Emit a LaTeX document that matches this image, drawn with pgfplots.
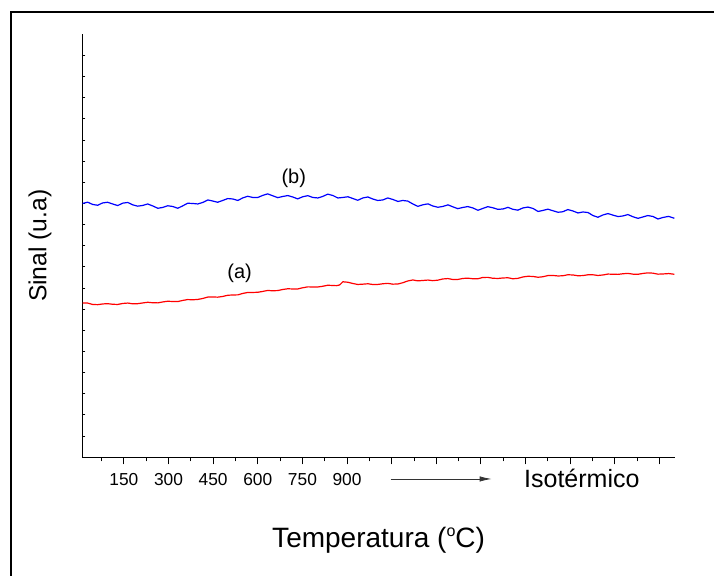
\documentclass[border=0pt]{standalone}
\usepackage{pgfplots}
\pgfplotsset{compat=1.18}
\usepackage{fontspec}
\setmainfont{Liberation Sans}
\usetikzlibrary{arrows.meta}
\pgfplotstableread{
x y
11 154.3
28 154.2
45 152.8
62 152.6
78 153.3
95 153.6
112 153.0
129 152.8
146 153.8
163 154.2
179 153.5
196 153.6
213 154.3
230 155.0
247 154.5
264 154.4
280 155.3
297 156.0
314 155.8
331 155.7
347 156.8
364 157.7
381 157.5
398 157.8
415 158.8
432 160.2
448 160.3
465 160.1
482 160.8
499 162.0
516 162.3
533 162.4
549 163.8
566 164.8
583 164.8
600 165.0
616 165.8
633 166.8
650 166.5
667 166.7
684 167.8
701 168.5
717 168.3
734 168.3
751 169.5
768 170.4
785 170.3
802 170.3
818 171.0
835 172.0
852 171.8
864 171.6
875 172.3
886 175.5
903 175.0
919 173.8
936 172.8
953 173.1
970 173.5
986 172.8
1003 172.8
1020 173.5
1037 173.9
1054 173.1
1071 173.3
1087 174.5
1104 176.3
1121 177.3
1138 176.4
1155 176.8
1172 177.2
1188 176.6
1205 177.1
1222 178.3
1239 178.7
1255 177.8
1272 177.8
1289 178.8
1306 179.1
1323 178.5
1340 178.5
1356 179.8
1373 179.9
1390 179.0
1407 178.8
1424 179.3
1441 179.5
1457 178.5
1474 178.9
1491 180.3
1508 181.0
1525 180.8
1542 180.0
1558 180.5
1575 181.7
1592 181.8
1609 181.3
1625 181.5
1642 182.5
1659 182.3
1676 181.5
1693 181.7
1710 182.5
1726 182.5
1743 181.8
1760 182.3
1777 183.2
1794 183.0
1811 182.9
1827 183.5
1844 183.9
1861 183.1
1878 183.0
1894 183.8
1911 184.4
1928 184.1
1945 183.1
1962 183.3
1981 183.7
2000 183.0
}\seriesa
\pgfplotstableread{
x y
11 253.8
28 255.1
45 252.8
62 252.0
78 254.3
95 255.0
112 253.3
129 251.7
146 254.1
163 254.8
179 252.5
196 251.1
213 251.8
230 253.3
247 251.3
264 249.0
280 249.8
297 251.5
314 250.8
331 249.0
347 251.3
364 254.0
381 253.8
398 253.3
415 254.8
432 257.3
448 256.3
465 255.0
482 256.8
499 258.7
516 258.3
533 256.8
549 259.3
566 261.0
583 259.8
600 259.8
616 261.8
633 263.4
650 261.5
667 259.6
684 260.8
701 261.7
717 260.3
734 258.4
751 260.5
768 261.6
785 259.8
802 259.3
818 260.8
835 263.1
852 261.8
869 259.3
886 259.8
903 260.5
919 258.8
936 257.0
953 259.3
970 260.3
986 258.3
1003 256.8
1020 257.3
1037 259.3
1054 257.8
1071 255.8
1087 256.8
1104 256.2
1121 253.3
1138 250.9
1155 252.5
1172 253.4
1188 251.3
1205 250.0
1222 250.8
1239 252.4
1255 250.5
1272 248.6
1289 249.8
1306 250.7
1323 249.3
1340 247.0
1356 248.8
1373 250.6
1390 249.5
1407 247.9
1424 248.3
1441 249.9
1457 248.0
1474 247.1
1491 249.3
1508 250.2
1525 248.8
1542 245.8
1558 246.8
1575 248.1
1592 246.5
1609 245.0
1625 245.5
1642 247.7
1659 246.3
1676 244.3
1693 245.3
1710 244.7
1726 241.8
1743 240.0
1760 242.3
1777 243.7
1794 242.1
1811 240.7
1827 241.3
1844 242.7
1861 240.5
1878 238.9
1894 240.3
1911 241.7
1928 240.8
1945 238.3
1962 239.8
1981 240.9
2000 239.0
}\seriesb
\begin{document}
\begin{tikzpicture}[x=0.75pt,y=0.75pt]
\useasboundingbox (0,0) rectangle (714,575);
\draw[line width=1.5pt] (11,-5) -- (11,563.3) -- (720,563.3);
\begin{axis}[
  at={(61.7pt,88.3pt)}, anchor=south west,
  scale only axis, width=444.5pt, height=317.25pt,
  xmin=10, xmax=2002, ymin=0, ymax=423,
  axis lines*=left,
  axis line style={line width=1pt},
  xtick={150,300,...,1950},
  xticklabels={150,300,450,600,750,900,{},{},{},{},{},{},{}},
  minor xtick={75,225,...,2000},
  ytick={21.15,42.3,...,402},
  yticklabels={},
  tick align=outside,
  major tick length=5.25pt, minor tick length=3pt,
  tick style={black, line width=0.75pt},
  ytick style={/pgfplots/major tick length=-2.25pt},
  clip=false,
  /pgf/number format/assume math mode=true,
  ticklabel style={font=\fontsize{13}{15}\selectfont},
  xticklabel style={yshift=-3pt},
  xlabel={Temperatura ({\raisebox{0.75ex}{\fontsize{12}{12}\selectfont o}}C)},
  xlabel style={at={(axis description cs:0.5,0)}, anchor=center, yshift=-62pt, font=\fontsize{21}{25}\selectfont},
  ylabel={Sinal (u.a)},
  ylabel style={at={(axis description cs:-0.0714,0.5)}, anchor=center, font=\fontsize{18.5}{22}\selectfont},
]
\addplot[red, line width=0.9pt] table[x=x,y=y] {\seriesa};
\addplot[blue, line width=0.9pt] table[x=x,y=y] {\seriesb};
\node[font=\fontsize{15}{18}\selectfont] at (axis cs:721,279.3) {(b)};
\node[font=\fontsize{15}{18}\selectfont] at (axis cs:539,184.3) {(a)};
\draw[-{Latex[length=9pt,width=4pt]}, line width=0.6pt, black!80] (axis cs:1046,-21.7) -- (axis cs:1386,-21.7);
\node[font=\fontsize{18.75}{22}\selectfont] at (axis cs:1689,-20.7) {Isotérmico};
\end{axis}
\end{tikzpicture}
\end{document}
